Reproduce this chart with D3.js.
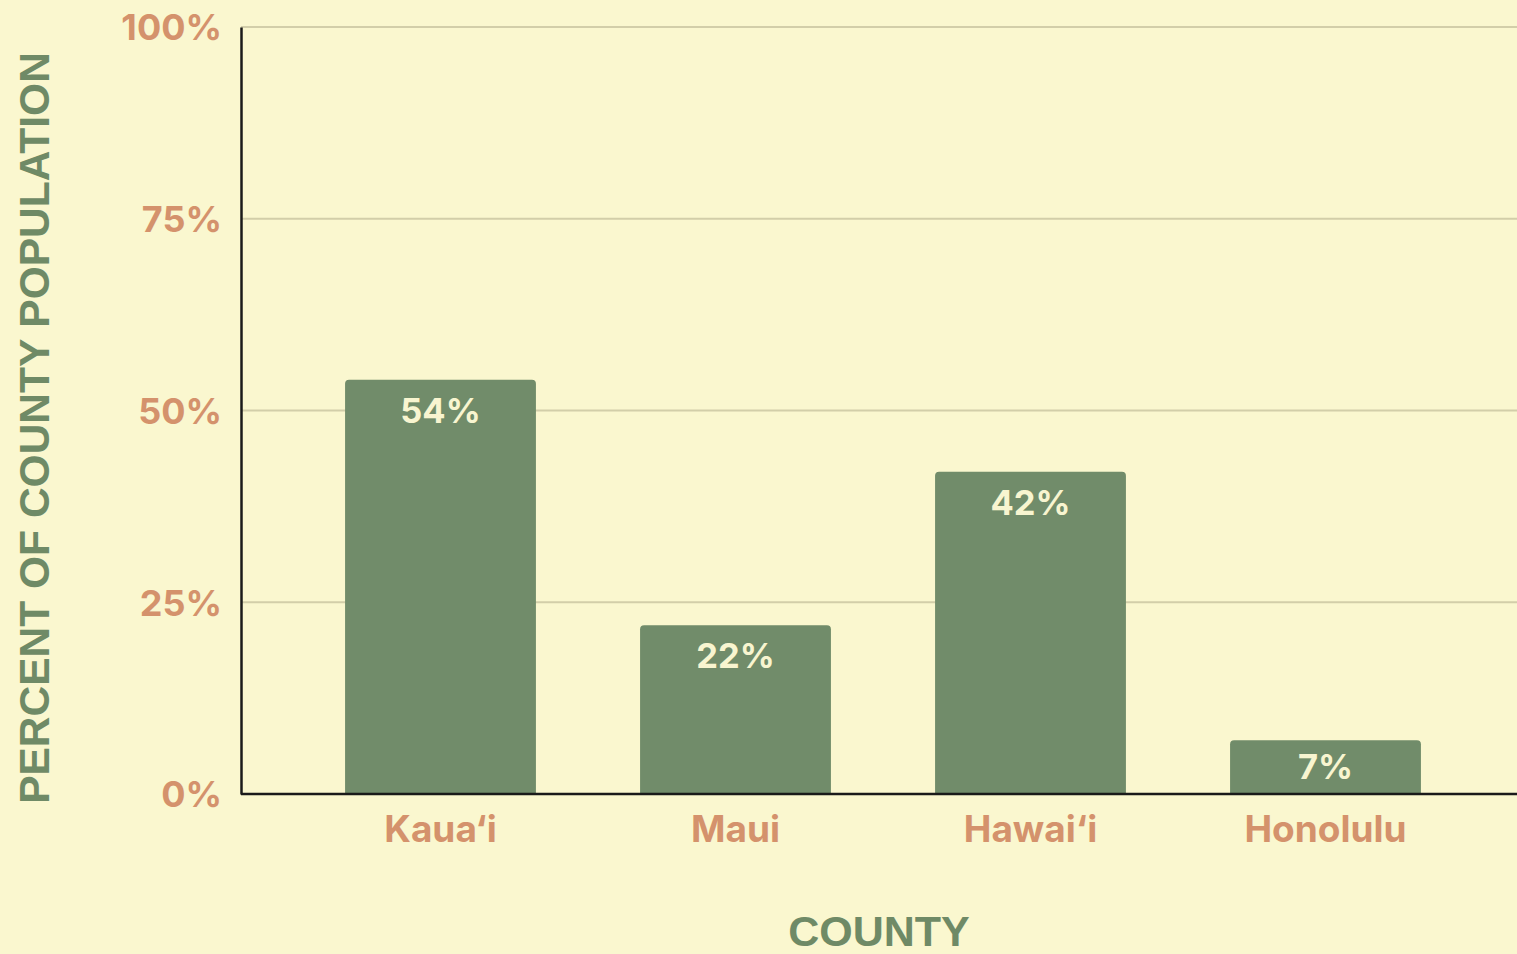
<!DOCTYPE html>
<html>
<head>
<meta charset="utf-8">
<script src="https://cdn.jsdelivr.net/npm/d3@7"></script>
<style>
  html, body { margin: 0; padding: 0; background: #faf7cf; overflow: hidden; }
  svg { display: block; }
</style>
</head>
<body>
<svg id="chart" width="1517" height="954"></svg>
<script>
const counties = ["Kaua\u2018i", "Maui", "Hawai\u2018i", "Honolulu"];
const percents = [54, 22, 42, 7];
const yTicks = [0, 25, 50, 75, 100];
const xTitle = "COUNTY";
const yTitle = "PERCENT OF COUNTY POPULATION";

const W = 1517, H = 954;
const bg = "#faf7cf", barColor = "#718c6a", tickColor = "#d4926c", titleColor = "#6f8a66";
const labelFont = "Inter, Lato, 'Open Sans', sans-serif";
const svg = d3.select("#chart");
svg.append("rect").attr("width", W).attr("height", H).attr("fill", bg);

const plotLeft = 241, plotRight = 1517, plotTop = 27, plotBottom = 794;

const x = d3.scaleBand().domain(counties).range([293, 1473]).paddingInner(0.353).paddingOuter(0.1765);
const y = d3.scaleLinear().domain([0, 100]).range([plotBottom, plotTop]);

// gridlines
svg.append("g").selectAll("line").data(yTicks.filter(t => t > 0)).join("line")
  .attr("x1", plotLeft).attr("x2", plotRight)
  .attr("y1", d => y(d)).attr("y2", d => y(d))
  .attr("stroke", "#d2cea9").attr("stroke-width", 2);

// bars with rounded top corners
const r = 4;
svg.append("g").selectAll("path").data(percents).join("path")
  .attr("fill", barColor)
  .attr("d", (d, i) => {
    const x0 = x(counties[i]), w = x.bandwidth(), y0 = y(d), yb = y(0);
    return `M${x0},${yb} L${x0},${y0 + r} Q${x0},${y0} ${x0 + r},${y0} L${x0 + w - r},${y0} Q${x0 + w},${y0} ${x0 + w},${y0 + r} L${x0 + w},${yb} Z`;
  });

// value labels
svg.append("g").selectAll("text").data(percents).join("text")
  .attr("x", (d, i) => x(counties[i]) + x.bandwidth() / 2)
  .attr("y", d => {
    const h = y(0) - y(d);
    return h < 84 ? (y(d) + y(0)) / 2 + 12 : y(d) + 43;
  })
  .attr("text-anchor", "middle")
  .attr("font-family", labelFont)
  .attr("font-weight", 700)
  .attr("font-size", 34.5)
  .attr("fill", "#f8f5d0")
  .text(d => d + "%");

// y axis
const yAxis = svg.append("g").attr("transform", `translate(${plotLeft},0)`)
  .call(d3.axisLeft(y).tickValues(yTicks).tickFormat(d => d + "%").tickSize(0).tickPadding(19));
yAxis.select(".domain").attr("stroke", "#1a1a1a").attr("stroke-width", 2.5);
yAxis.selectAll("text")
  .attr("font-family", labelFont)
  .attr("font-weight", 700)
  .attr("font-size", 36)
  .attr("fill", tickColor)
  .attr("dy", "0.36em");

// x axis
const xAxis = svg.append("g").attr("transform", `translate(0,${plotBottom})`)
  .call(d3.axisBottom(x).tickSize(0));
xAxis.select(".domain").attr("d", `M${plotLeft},0H${plotRight}`).attr("stroke", "#1a1a1a").attr("stroke-width", 2.5);
xAxis.selectAll("text")
  .attr("y", 48).attr("dy", 0)
  .attr("font-family", labelFont)
  .attr("font-weight", 700)
  .attr("font-size", 37)
  .attr("fill", tickColor);

// axis titles
svg.append("text")
  .attr("x", (plotLeft + plotRight) / 2).attr("y", 946)
  .attr("text-anchor", "middle")
  .attr("font-family", "'Liberation Sans', Arial, sans-serif")
  .attr("font-weight", 700)
  .attr("font-size", 43)
  .attr("fill", titleColor)
  .text(xTitle);

svg.append("text")
  .attr("transform", `translate(49,428) rotate(-90)`)
  .attr("text-anchor", "middle")
  .attr("font-family", "'Liberation Sans', Arial, sans-serif")
  .attr("font-weight", 700)
  .attr("font-size", 42.5)
  .attr("fill", titleColor)
  .text(yTitle);
</script>
</body>
</html>
